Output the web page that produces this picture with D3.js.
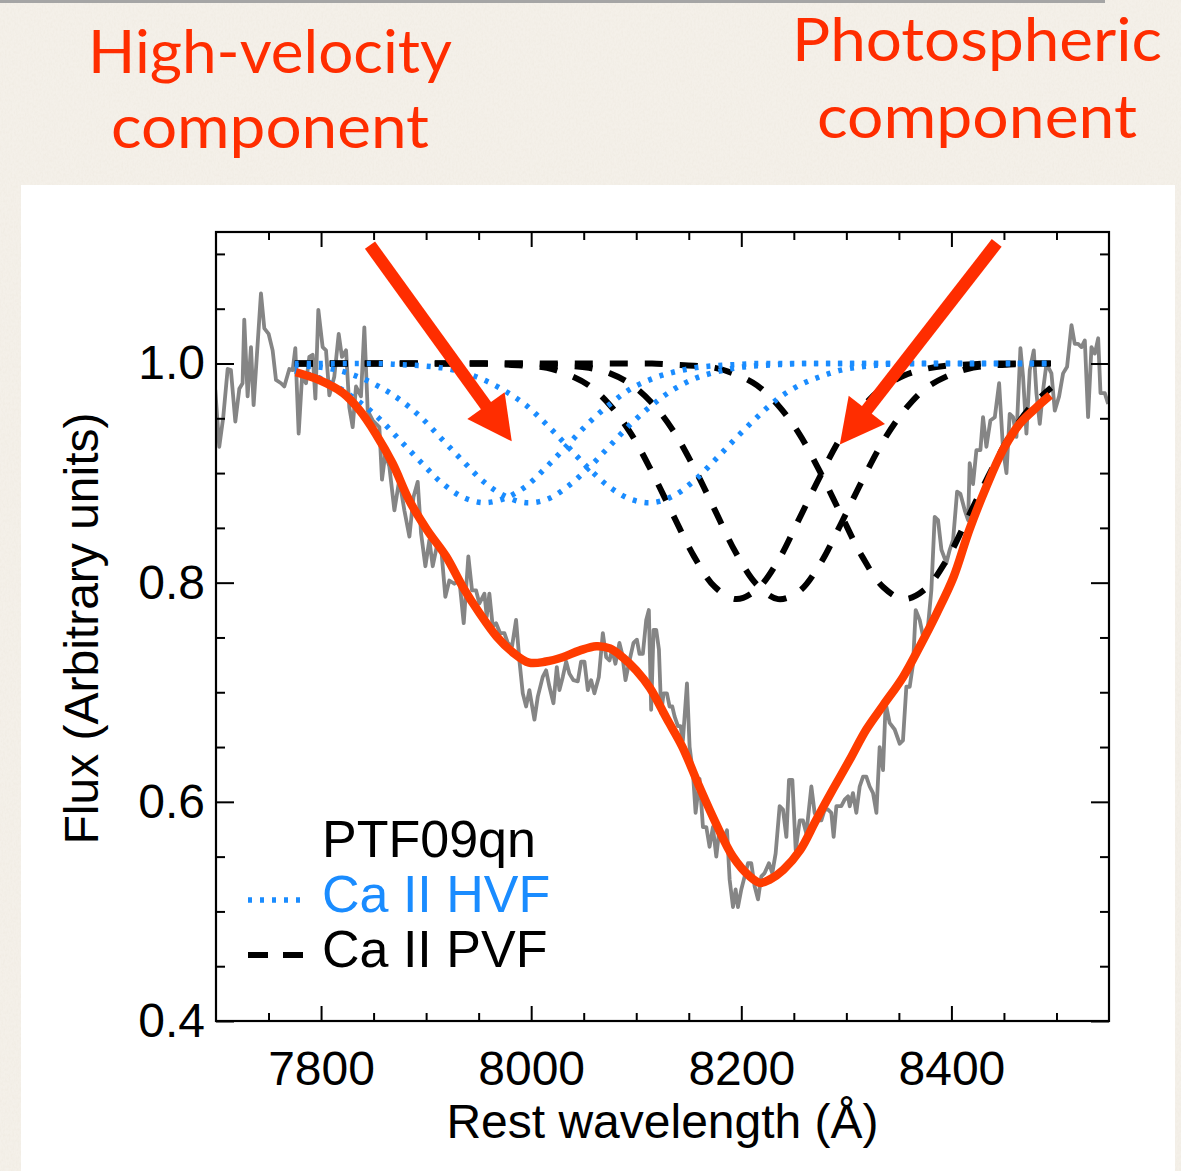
<!DOCTYPE html>
<html>
<head>
<meta charset="utf-8">
<script src="https://cdn.jsdelivr.net/npm/d3@7"></script>
<style>
  html, body { margin: 0; padding: 0; background: #f3efe8; }
  svg { display: block; }
</style>
</head>
<body>
<svg id="fig" width="1181" height="1171"></svg>
<script>
// ---------------- data ----------------
// Observed spectrum of PTF09qn around the Ca II near-IR triplet (rest frame)
const specWave = [
  7699.3,7703.1,7706.9,7711.1,7714.2,7718.4,7722.2,7725.3,7726.9,7730.1,7733.3,7735.8,7742.8,7746.0,7750.1,7753.9,
  7757.1,7761.9,7765.0,7769.8,7773.0,7775.5,7778.7,7781.9,7785.7,7788.8,7792.0,7794.6,7797.4,7801.5,7804.7,7807.9,
  7812.6,7816.8,7819.9,7823.8,7826.9,7830.1,7833.3,7838.0,7841.2,7844.4,7849.2,7855.5,7858.0,7861.2,7865.0,7869.8,
  7874.5,7879.3,7884.1,7887.9,7892.0,7895.2,7899.3,
  7903.1,7906.3,7911.0,7914.2,7918.3,7922.1,7926.9,7931.7,7935.8,7940.2,7943.7,7947.5,7950.7,7955.5,7957.7,7960.2,
  7963.4,7966.6,7970.4,7974.5,7977.7,7981.8,7985.6,7988.8,7992.0,7995.2,7998.3,8003.1,8006.3,8011.0,8014.2,8017.4,
  8021.2,8024.4,8026.9,8030.1,8033.3,8036.4,8040.2,8044.4,8047.5,8050.7,8053.9,8057.1,8060.2,8064.4,8068.2,8071.4,
  8074.5,8077.1,8080.2,8084.0,8086.6,8089.8,8093.6,8097.4,8100.6,8103.1,8106.3,8109.5,8112.0,8114.2,
  8116.5,8119.0,8121.6,8123.8,8126.0,8129.2,8131.7,8134.3,8136.5,8139.7,8142.2,8144.4,8148.3,8150.8,8154.0,8156.5,
  8160.3,8163.5,8166.7,8169.8,8173.0,8176.2,8179.4,8182.5,8186.4,8188.9,8192.1,8194.6,8196.8,8200.0,8203.2,8206.4,
  8209.5,8212.7,8215.9,8219.1,8222.2,8226.3,8229.5,8232.7,8236.5,8239.7,8242.9,8245.4,8248.6,8251.8,8255.6,8258.7,
  8261.9,8266.7,8269.8,8273.0,8276.2,8279.4,8282.5,8285.7,8287.9,8290.5,8295.2,8298.4,8301.6,8303.2,8306.3,8309.5,
  8312.7,8315.9,8319.0,8322.2,8325.4,
  8328.6,8331.7,8334.9,8337.4,8341.2,8346.0,8350.8,8353.9,8357.1,8360.3,8363.5,8366.0,8369.8,8373.0,8376.8,8380.9,
  8384.1,8387.3,8390.5,8395.2,8398.4,8401.6,8405.4,8408.6,8412.7,8415.9,8417.4,8420.6,8423.8,8427.6,8430.1,8433.3,
  8437.1,8441.3,8445.4,8449.2,8452.4,8455.5,8458.7,8461.9,8465.7,8468.2,8471.4,8474.6,8478.4,8480.9,8484.1,8487.3,
  8490.5,8495.2,8498.4,8502.5,8506.3,8510.1,8514.3,8517.4,8520.6,8523.8,8527.0,8530.1,8533.3,8536.5,8539.7,8541.9,
  8546.0,8549.2
];
const specFlux = [
  0.976,0.924,0.951,0.995,0.994,0.947,0.977,0.982,1.040,0.970,1.015,0.962,1.064,1.032,1.027,1.012,
  0.985,0.982,0.979,0.995,0.994,1.014,0.936,0.988,0.982,1.006,1.008,0.968,1.049,1.015,1.012,0.971,
  0.988,1.027,1.006,1.012,0.960,0.942,0.979,0.970,1.033,0.957,0.948,0.942,0.894,0.918,0.906,0.866,
  0.894,0.866,0.842,0.878,0.892,0.845,0.815,
  0.839,0.815,0.837,0.833,0.787,0.802,0.799,0.802,0.763,0.824,0.793,0.793,0.781,0.790,0.769,0.790,
  0.760,0.763,0.754,0.754,0.745,0.742,0.766,0.729,0.699,0.687,0.702,0.675,0.696,0.714,0.720,0.705,
  0.690,0.723,0.702,0.714,0.728,0.717,0.711,0.710,0.728,0.728,0.702,0.711,0.699,0.714,0.754,0.732,
  0.729,0.739,0.726,0.745,0.735,0.711,0.729,0.745,0.748,0.735,0.735,0.766,0.775,0.684,
  0.757,0.757,0.739,0.681,0.699,0.699,0.687,0.687,0.678,0.669,0.669,0.656,0.708,0.650,0.626,0.590,
  0.621,0.577,0.577,0.559,0.577,0.550,0.577,0.565,0.574,0.529,0.504,0.520,0.504,0.520,0.532,0.544,
  0.544,0.523,0.511,0.532,0.535,0.544,0.535,0.553,0.596,0.593,0.568,0.620,0.620,0.556,0.583,0.583,
  0.571,0.614,0.590,0.583,0.583,0.593,0.593,0.590,0.568,0.596,0.596,0.602,0.605,0.596,0.608,0.590,
  0.614,0.623,0.623,0.614,0.608,
  0.590,0.650,0.629,0.690,0.672,0.666,0.653,0.656,0.705,0.705,0.726,0.775,0.766,0.751,0.751,0.793,
  0.860,0.857,0.830,0.818,0.830,0.839,0.883,0.881,0.866,0.857,0.909,0.890,0.921,0.921,0.951,0.924,
  0.948,0.951,0.982,0.921,0.900,0.954,0.951,0.933,1.014,0.988,0.936,0.994,1.012,0.973,0.945,0.976,
  1.000,0.991,0.957,0.970,0.991,0.997,1.035,1.018,1.018,1.015,1.021,0.951,1.015,1.009,1.023,0.973,
  0.973,0.963
];

// Combined model fit
const fitWave = [7776,7798,7821,7837,7852,7868,7884,7901,7919,7935,7951,7967,7983,7998,8014,8030,8046,8062,
  8075,8087,8100,8113,8129,8144,8160,8176,8192,8208,8218,8227,8240,8256,8271,8287,8303,8319,8335,8354,
  8370,8386,8402,8417,8433,8449,8465,8481,8494];
const fitFlux = [0.992,0.985,0.973,0.957,0.936,0.909,0.875,0.848,0.824,0.796,0.772,0.751,0.736,0.727,0.728,0.732,
  0.738,0.742,0.740,0.732,0.720,0.704,0.676,0.650,0.614,0.580,0.550,0.532,0.526,0.529,0.538,0.556,
  0.583,0.611,0.638,0.666,0.688,0.714,0.742,0.772,0.805,0.848,0.887,0.921,0.945,0.960,0.971];

// Individual Ca II triplet components, sampled on a common wavelength grid
const compWave = [7775,7795,7815,7835,7855,7875,7895,7915,7935,7955,7975,7995,8015,8035,8055,8075,8095,8115,
  8135,8155,8175,8195,8215,8235,8255,8275,8295,8315,8335,8355,8375,8395,8415,8435,8455,8475,8495];
// high-velocity feature (HVF) components
const hvf1 = [0.993,0.988,0.979,0.966,0.950,0.930,0.910,0.891,0.878,0.873,0.877,0.888,0.906,0.926,0.946,0.963,
  0.977,0.986,0.992,0.996,0.998,0.999,1,1,1,1,1,1,1,1,1,1,1,1,1,1,1];
const hvf2 = [0.998,0.997,0.994,0.988,0.979,0.967,0.951,0.931,0.911,0.892,0.879,0.873,0.876,0.888,0.905,0.925,
  0.945,0.962,0.976,0.986,0.992,0.996,0.998,0.999,1,1,1,1,1,1,1,1,1,1,1,1,1];
const hvf3 = [1,1,1,1,1,0.999,0.998,0.996,0.992,0.985,0.975,0.962,0.944,0.924,0.904,0.887,
  0.876,0.873,0.879,0.893,0.912,0.932,0.951,0.968,0.980,0.988,0.994,0.997,0.999,1,1,1,1,1,1,1,1];
// photospheric velocity feature (PVF) components
const pvf1 = [1,1,1,1,1,1,1,1,1,1,0.999,0.998,0.996,0.990,0.980,0.962,
  0.936,0.901,0.862,0.824,0.796,0.785,0.794,0.820,0.858,0.897,0.933,0.960,0.978,0.989,0.995,0.998,0.999,1,1,1,1];
const pvf2 = [1,1,1,1,1,1,1,1,1,1,1,1,0.999,0.998,0.996,0.991,
  0.981,0.964,0.939,0.905,0.866,0.827,0.798,0.785,0.792,0.817,0.854,0.893,0.929,0.957,0.977,0.988,0.995,0.998,0.999,1,1];
const pvf3 = [1,1,1,1,1,1,1,1,1,1,1,1,1,1,1,1,
  1,1,0.999,0.998,0.996,0.990,0.980,0.962,0.936,0.901,0.862,0.824,0.796,0.785,0.794,0.820,0.858,0.897,0.933,0.960,0.978];

// Axis ticks
const xMajor = [7800, 8000, 8200, 8400];
const yMajor = [0.4, 0.6, 0.8, 1.0];
const xMinor = [7750,7850,7900,7950,8050,8100,8150,8250,8300,8350,8450,8500];
const yMinor = [0.45,0.5,0.55,0.65,0.7,0.75,0.85,0.9,0.95,1.05,1.1];

// Legend entries
const legendLabels = ["PTF09qn", "Ca II HVF", "Ca II PVF"];

// Arrow annotations (start and tip in data units: wavelength, flux)
const arrows = [
  { from: [7846.6, 1.108], to: [7981.5, 0.929] },
  { from: [8443.1, 1.110], to: [8293.8, 0.926] }
];
const notes = [
  { lines: ["High-velocity", "component"] },
  { lines: ["Photospheric", "component"] }
];

// ---------------- drawing ----------------
const W = 1181, H = 1171;
const RED = "#ff2d00", FIT = "#ff3c00", BLUE = "#1a8cff", GREY = "#858585";
const FONT = "'Liberation Sans', Arial, Helvetica, sans-serif";
const svg = d3.select("#fig");
const defs = svg.append("defs");

// subtle paper grain for the slide background
const paper = defs.append("filter").attr("id", "paper")
  .attr("x", 0).attr("y", 0).attr("width", "100%").attr("height", "100%");
paper.append("feTurbulence").attr("type", "fractalNoise")
  .attr("baseFrequency", "0.55 0.35").attr("numOctaves", 3).attr("seed", 4).attr("result", "n");
paper.append("feColorMatrix").attr("in", "n").attr("type", "matrix")
  .attr("values", "0 0 0 0 0.72  0 0 0 0 0.66  0 0 0 0 0.55  0.28 0 0 0 -0.1");

svg.append("rect").attr("width", W).attr("height", H).attr("fill", "#f4f0e9");
svg.append("rect").attr("width", W).attr("height", H).attr("fill", "#000").attr("filter", "url(#paper)");
svg.append("rect").attr("x", 0).attr("y", 0).attr("width", 1105).attr("height", 3).attr("fill", "#a5a5a5");

// white figure panel
svg.append("rect").attr("x", 21).attr("y", 185).attr("width", 1154).attr("height", 986).attr("fill", "#fff");

// slide captions
const noteFont = "Lato, 'Open Sans', sans-serif";
const notePos = [
  { x: 270, y: [73, 148], w: [364, 318] },
  { x: 977, y: [61, 138], w: [370, 320] }
];
notes.forEach((n, i) => {
  n.lines.forEach((t, j) => {
    svg.append("text")
      .attr("x", notePos[i].x).attr("y", notePos[i].y[j])
      .attr("text-anchor", "middle")
      .attr("font-family", noteFont).attr("font-size", 60)
      .attr("fill", RED)
      .attr("textLength", notePos[i].w[j]).attr("lengthAdjust", "spacingAndGlyphs")
      .text(t);
  });
});

// plot frame
const L = 216, R = 1109, T = 232, B = 1021;
const x = d3.scaleLinear().domain([7700, 8550]).range([L, R]);
const y = d3.scaleLinear().domain([0.4, 1.12]).range([B, T]);

defs.append("clipPath").attr("id", "plotclip")
  .append("rect").attr("x", L).attr("y", T).attr("width", R - L).attr("height", B - T);

const g = svg.append("g");
const plot = g.append("g").attr("clip-path", "url(#plotclip)");

const lineXY = d3.line().x(d => x(d[0])).y(d => y(d[1]));
const smooth = d3.line().x(d => x(d[0])).y(d => y(d[1])).curve(d3.curveCatmullRom.alpha(0.5));

// spectrum
plot.append("path")
  .datum(specWave.map((w, i) => [w, specFlux[i]]))
  .attr("d", lineXY).attr("fill", "none")
  .attr("stroke", GREY).attr("stroke-width", 3.8).attr("stroke-linejoin", "round");

// PVF components (dashed black)
[pvf1, pvf2, pvf3].forEach(s => {
  plot.append("path")
    .datum(compWave.map((w, i) => [w, s[i]]))
    .attr("d", smooth).attr("fill", "none")
    .attr("stroke", "#000").attr("stroke-width", 6)
    .attr("stroke-dasharray", "18,17");
});
// HVF components (dotted blue)
[hvf1, hvf2, hvf3].forEach(s => {
  plot.append("path")
    .datum(compWave.map((w, i) => [w, s[i]]))
    .attr("d", smooth).attr("fill", "none")
    .attr("stroke", BLUE).attr("stroke-width", 5.5)
    .attr("stroke-dasharray", "4,8");
});

// total fit
plot.append("path")
  .datum(fitWave.map((w, i) => [w, fitFlux[i]]))
  .attr("d", smooth).attr("fill", "none")
  .attr("stroke", FIT).attr("stroke-width", 8.5).attr("stroke-linecap", "butt");

// axes: inward ticks on all four sides
function styleAxis(sel) {
  sel.selectAll(".domain").remove();
  sel.selectAll(".tick line").attr("stroke", "#000").attr("stroke-width", 2);
  sel.selectAll(".tick text").attr("font-family", FONT).attr("font-size", 48).attr("fill", "#000");
}
g.append("g").attr("transform", `translate(0,${B})`)
  .call(d3.axisBottom(x).tickValues(xMinor).tickSize(-8).tickFormat(""))
  .call(styleAxis);
g.append("g").attr("transform", `translate(0,${B})`)
  .call(d3.axisBottom(x).tickValues(xMajor).tickSize(-15).tickPadding(30).tickFormat(d3.format("d")))
  .call(styleAxis);
g.append("g").attr("transform", `translate(0,${T})`)
  .call(d3.axisTop(x).tickValues(xMinor).tickSize(-8).tickFormat(""))
  .call(styleAxis);
g.append("g").attr("transform", `translate(0,${T})`)
  .call(d3.axisTop(x).tickValues(xMajor).tickSize(-15).tickFormat(""))
  .call(styleAxis);
g.append("g").attr("transform", `translate(${L},0)`)
  .call(d3.axisLeft(y).tickValues(yMinor).tickSize(-9).tickFormat(""))
  .call(styleAxis);
g.append("g").attr("transform", `translate(${L},0)`)
  .call(d3.axisLeft(y).tickValues(yMajor).tickSize(-18).tickPadding(11).tickFormat(d3.format(".1f")))
  .call(styleAxis);
g.append("g").attr("transform", `translate(${R},0)`)
  .call(d3.axisRight(y).tickValues(yMinor).tickSize(-9).tickFormat(""))
  .call(styleAxis);
g.append("g").attr("transform", `translate(${R},0)`)
  .call(d3.axisRight(y).tickValues(yMajor).tickSize(-18).tickFormat(""))
  .call(styleAxis);

g.append("rect").attr("x", L).attr("y", T).attr("width", R - L).attr("height", B - T)
  .attr("fill", "none").attr("stroke", "#000").attr("stroke-width", 2.2);

// axis titles
g.append("text")
  .attr("x", (L + R) / 2).attr("y", 1138).attr("text-anchor", "middle")
  .attr("font-family", FONT).attr("font-size", 48).attr("fill", "#000")
  .text("Rest wavelength (Å)");
g.append("text")
  .attr("transform", `translate(98,${(T + B) / 2 + 2}) rotate(-90)`)
  .attr("text-anchor", "middle")
  .attr("font-family", FONT).attr("font-size", 48).attr("fill", "#000")
  .text("Flux (Arbitrary units)");

// legend
const legend = g.append("g");
const legY = [857, 912, 967];
const legColor = ["#000", BLUE, "#000"];
legendLabels.forEach((t, i) => {
  legend.append("text").attr("x", 322).attr("y", legY[i])
    .attr("font-family", FONT).attr("font-size", 52).attr("fill", legColor[i]).text(t);
});
legend.append("line").attr("x1", 248).attr("x2", 303).attr("y1", 900).attr("y2", 900)
  .attr("stroke", BLUE).attr("stroke-width", 5.5).attr("stroke-dasharray", "4,8");
legend.append("line").attr("x1", 248).attr("x2", 303).attr("y1", 955).attr("y2", 955)
  .attr("stroke", "#000").attr("stroke-width", 6).attr("stroke-dasharray", "20,15");

// annotation arrows
arrows.forEach(a => {
  const x0 = x(a.from[0]), y0 = y(a.from[1]);
  const x1 = x(a.to[0]), y1 = y(a.to[1]);
  const dx = x1 - x0, dy = y1 - y0, len = Math.hypot(dx, dy);
  const ux = dx / len, uy = dy / len, px = -uy, py = ux;
  const headL = 44, headW = 23;
  const bx = x1 - ux * headL, by = y1 - uy * headL;
  g.append("line").attr("x1", x0).attr("y1", y0).attr("x2", bx + ux * 4).attr("y2", by + uy * 4)
    .attr("stroke", RED).attr("stroke-width", 12.5);
  g.append("path")
    .attr("d", `M${x1},${y1}L${bx + px * headW},${by + py * headW}L${bx - px * headW},${by - py * headW}Z`)
    .attr("fill", RED);
});
</script>
</body>
</html>
